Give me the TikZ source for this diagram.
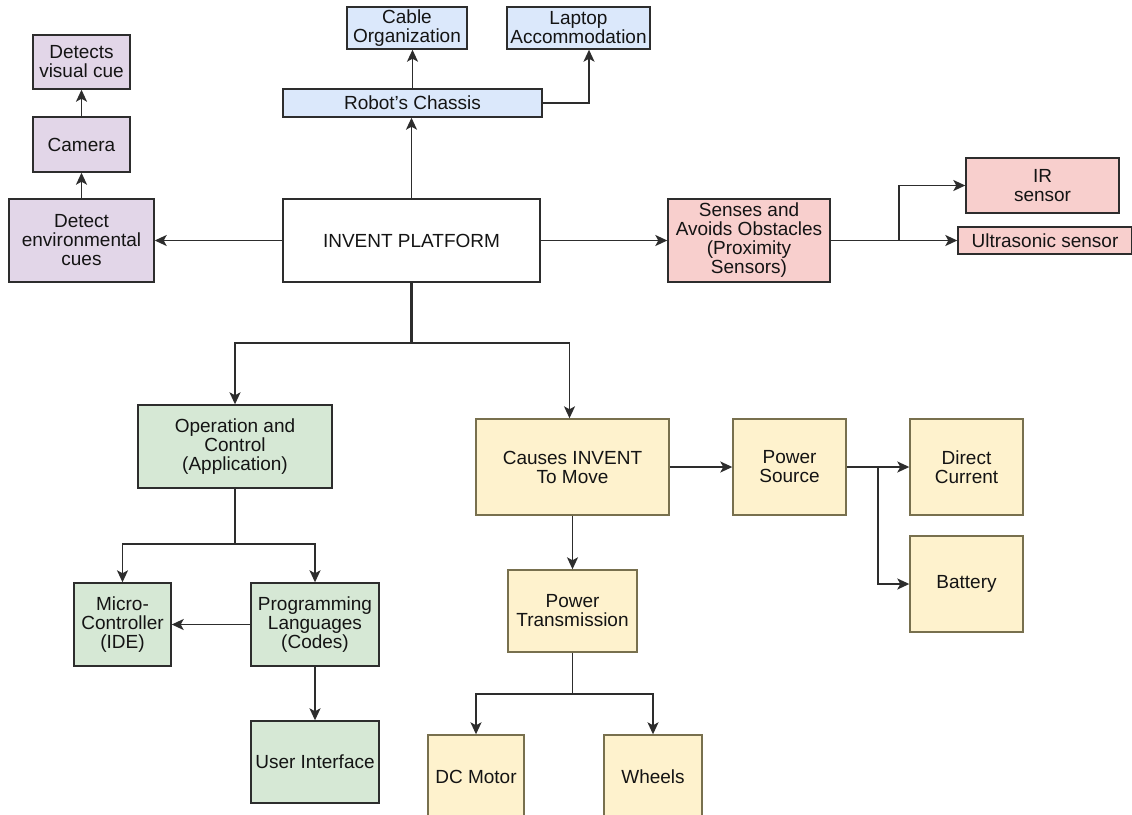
\documentclass[tikz,border=0pt]{standalone}
\usepackage{fontspec}
\setmainfont{Liberation Sans}
\usetikzlibrary{arrows.meta,calc}
\definecolor{purplefill}{RGB}{226,214,232}
\definecolor{bluefill}{RGB}{219,232,251}
\definecolor{redfill}{RGB}{248,207,205}
\definecolor{greenfill}{RGB}{214,232,213}
\definecolor{yellowfill}{RGB}{254,242,205}
\definecolor{linegray}{RGB}{45,45,45}
\definecolor{olivegray}{RGB}{120,112,78}
\definecolor{textgray}{RGB}{20,20,20}

\begin{document}
\begin{tikzpicture}[x=1pt,y=-1pt,
  box/.style={draw=linegray,line width=1.4pt,align=center,inner sep=1pt,text=textgray,font=\fontsize{19}{19}\selectfont},
  purplebox/.style={box,fill=purplefill},
  bluebox/.style={box,fill=bluefill},
  redbox/.style={box,fill=redfill},
  greenbox/.style={box,fill=greenfill},
  yellowbox/.style={box,fill=yellowfill,draw=olivegray},
  plain/.style={line width=1.7pt,draw=linegray},
  link/.style={plain,-{Stealth[length=12pt,width=11pt,inset=3pt]}}]
\useasboundingbox (0,0) rectangle (1132,814);

\node[box,minimum width=257pt,minimum height=83pt] (invent) at (411.5,240.5) {INVENT PLATFORM};

\node[purplebox,minimum width=145pt,minimum height=83pt] (env) at (81.5,240.5) {Detect\\environmental\\cues};
\node[purplebox,minimum width=97pt,minimum height=55pt] (camera) at (81.5,144.5) {Camera};
\node[purplebox,minimum width=97pt,minimum height=54pt] (visual) at (81.5,62) {Detects\\visual cue};

\node[bluebox,minimum width=259pt,minimum height=28pt] (chassis) at (412.5,103) {Robot's Chassis};
\node[bluebox,minimum width=120pt,minimum height=42pt] (cable) at (407,28) {Cable\\Organization};
\node[bluebox,minimum width=143pt,minimum height=42pt] (laptop) at (578.5,28) {Laptop\\Accommodation};

\node[redbox,minimum width=162pt,minimum height=83pt] (senses) at (749,240.5) {Senses and\\Avoids Obstacles\\(Proximity\\Sensors)};
\node[redbox,minimum width=153pt,minimum height=55pt] (ir) at (1042.5,185.5) {IR\\sensor};
\node[redbox,minimum width=174pt,minimum height=27pt] (ultra) at (1045,240.5) {Ultrasonic sensor};

\node[greenbox,minimum width=194pt,minimum height=83pt] (op) at (235,446.5) {Operation and\\Control\\(Application)};
\node[greenbox,minimum width=97pt,minimum height=83pt] (micro) at (122.5,624.5) {Micro-\\Controller\\(IDE)};
\node[greenbox,minimum width=128pt,minimum height=83pt] (prog) at (315,624.5) {Programming\\Languages\\(Codes)};
\node[greenbox,minimum width=128pt,minimum height=82pt] (ui) at (315,762) {User Interface};

\node[yellowbox,minimum width=193pt,minimum height=96pt] (causes) at (572.5,467) {Causes INVENT\\To Move};
\node[yellowbox,minimum width=113pt,minimum height=96pt] (psource) at (789.5,467) {Power\\Source};
\node[yellowbox,minimum width=113pt,minimum height=96pt] (dcur) at (966.5,467) {Direct\\Current};
\node[yellowbox,minimum width=113pt,minimum height=96pt] (battery) at (966.5,584) {Battery};
\node[yellowbox,minimum width=129pt,minimum height=82pt] (ptrans) at (572.5,611) {Power\\Transmission};
\node[yellowbox,minimum width=96pt,minimum height=84pt] (motor) at (476,777) {DC Motor};
\node[yellowbox,minimum width=98pt,minimum height=84pt] (wheels) at (653,777) {Wheels};

\draw[link] (invent.west) -- (env.east);
\draw[link] (env) -- (camera);
\draw[link] (camera) -- (visual);

\draw[link] (invent.north) -- (invent.north |- chassis.south);
\draw[link] (chassis.north) -- (chassis.north |- cable.south);
\draw[link] (chassis.east) -| ([xshift=10.5pt]laptop.south);

\coordinate (sj) at (899,240.5);
\draw[link] (invent.east) -- (senses.west);
\draw[plain] (senses.east) -- (sj);
\draw[link] (sj) |- (ir.west);
\draw[link] (sj) -- (ultra.west);

\coordinate (hub) at (412,343);
\draw[linegray,line width=3.5pt] (invent.south) -- (invent.south |- hub);
\draw[link] (hub) -| (op.north);
\draw[link] (hub) -| ([xshift=-3pt]causes.north);

\draw[plain] (op.south) -- ++(0,55) coordinate (opj);
\draw[link] (opj) -| (micro.north);
\draw[link] (opj) -| (prog.north);
\draw[link] (prog.west) -- (micro.east);
\draw[link] (prog.south) -- (ui.north);

\coordinate (pj) at (878,467);
\draw[link] (causes.east) -- (psource.west);
\draw[link] (psource.east) -- (dcur.west);
\draw[link] (pj) |- (battery.west);

\draw[link] (causes.south) -- (ptrans.north);
\draw[plain] (ptrans.south) -- ++(0,41) coordinate (tj);
\draw[link] (tj) -| (motor.north);
\draw[link] (tj) -| (wheels.north);
\end{tikzpicture}
\end{document}
